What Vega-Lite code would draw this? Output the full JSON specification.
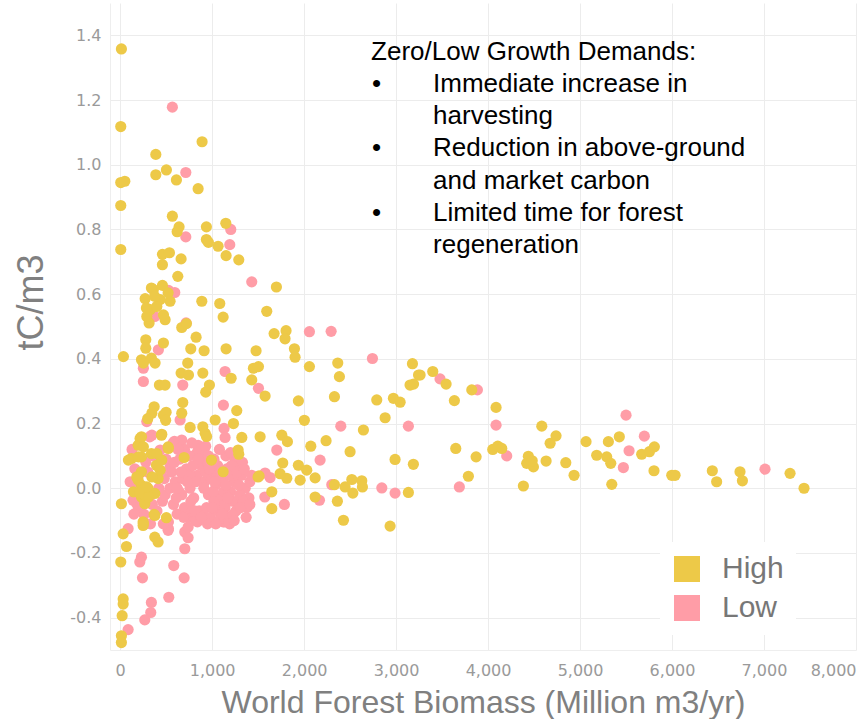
{
  "$schema": "https://vega.github.io/schema/vega-lite/v6.json",
  "width": 746,
  "height": 647,
  "autosize": {"type": "none"},
  "padding": {"left": 110, "top": 3, "right": 2, "bottom": 69},
  "background": "white",
  "config": {
    "view": {"stroke": null},
    "font": "Liberation Sans",
    "axis": {
      "grid": true,
      "gridColor": "#ececec",
      "domainColor": "#eeeeee",
      "ticks": false,
      "labelFont": "DejaVu Sans",
      "labelFontSize": 16,
      "labelColor": "#9a9a9a",
      "titleFont": "Liberation Sans",
      "titleFontSize": 32,
      "titleFontWeight": "normal",
      "titleColor": "#808080"
    }
  },
  "datasets": {
    "pts": [
      {"biomass": 568, "tc": 1.178, "demand": "Low"},
      {"biomass": 714, "tc": 0.976, "demand": "Low"},
      {"biomass": 714, "tc": 0.777, "demand": "Low"},
      {"biomass": 1203, "tc": 0.8, "demand": "Low"},
      {"biomass": 1192, "tc": 0.753, "demand": "Low"},
      {"biomass": 525, "tc": 0.612, "demand": "Low"},
      {"biomass": 1431, "tc": 0.638, "demand": "Low"},
      {"biomass": 717, "tc": 0.511, "demand": "Low"},
      {"biomass": 2058, "tc": 0.484, "demand": "Low"},
      {"biomass": 2294, "tc": 0.485, "demand": "Low"},
      {"biomass": 416, "tc": 0.428, "demand": "Low"},
      {"biomass": 2743, "tc": 0.401, "demand": "Low"},
      {"biomass": 253, "tc": 0.371, "demand": "Low"},
      {"biomass": 253, "tc": 0.33, "demand": "Low"},
      {"biomass": 681, "tc": 0.319, "demand": "Low"},
      {"biomass": 1141, "tc": 0.361, "demand": "Low"},
      {"biomass": 1504, "tc": 0.309, "demand": "Low"},
      {"biomass": 1123, "tc": 0.257, "demand": "Low"},
      {"biomass": 1130, "tc": 0.185, "demand": "Low"},
      {"biomass": 1141, "tc": 0.157, "demand": "Low"},
      {"biomass": 652, "tc": 0.211, "demand": "Low"},
      {"biomass": 670, "tc": 0.149, "demand": "Low"},
      {"biomass": 590, "tc": 0.145, "demand": "Low"},
      {"biomass": 290, "tc": 0.206, "demand": "Low"},
      {"biomass": 345, "tc": 0.164, "demand": "Low"},
      {"biomass": 2399, "tc": 0.192, "demand": "Low"},
      {"biomass": 3134, "tc": 0.192, "demand": "Low"},
      {"biomass": 2174, "tc": 0.087, "demand": "Low"},
      {"biomass": 1703, "tc": 0.118, "demand": "Low"},
      {"biomass": 376, "tc": 0.531, "demand": "Low"},
      {"biomass": 594, "tc": 0.605, "demand": "Low"},
      {"biomass": 322, "tc": 0.159, "demand": "Low"},
      {"biomass": 576, "tc": 0.14, "demand": "Low"},
      {"biomass": 848, "tc": 0.133, "demand": "Low"},
      {"biomass": 830, "tc": 0.107, "demand": "Low"},
      {"biomass": 1301, "tc": 0.071, "demand": "Low"},
      {"biomass": 141, "tc": -0.037, "demand": "Low"},
      {"biomass": 1573, "tc": -0.027, "demand": "Low"},
      {"biomass": 87, "tc": -0.125, "demand": "Low"},
      {"biomass": 522, "tc": -0.13, "demand": "Low"},
      {"biomass": 703, "tc": -0.135, "demand": "Low"},
      {"biomass": 739, "tc": -0.153, "demand": "Low"},
      {"biomass": 703, "tc": -0.187, "demand": "Low"},
      {"biomass": 840, "tc": -0.104, "demand": "Low"},
      {"biomass": 1120, "tc": -0.104, "demand": "Low"},
      {"biomass": 232, "tc": -0.213, "demand": "Low"},
      {"biomass": 214, "tc": -0.228, "demand": "Low"},
      {"biomass": 583, "tc": -0.239, "demand": "Low"},
      {"biomass": 243, "tc": -0.277, "demand": "Low"},
      {"biomass": 696, "tc": -0.277, "demand": "Low"},
      {"biomass": 529, "tc": -0.337, "demand": "Low"},
      {"biomass": 340, "tc": -0.353, "demand": "Low"},
      {"biomass": 333, "tc": -0.384, "demand": "Low"},
      {"biomass": 268, "tc": -0.407, "demand": "Low"},
      {"biomass": 87, "tc": -0.437, "demand": "Low"},
      {"biomass": 1576, "tc": 0.047, "demand": "Low"},
      {"biomass": 1631, "tc": 0.033, "demand": "Low"},
      {"biomass": 2301, "tc": 0.011, "demand": "Low"},
      {"biomass": 2845, "tc": 0.001, "demand": "Low"},
      {"biomass": 2989, "tc": -0.015, "demand": "Low"},
      {"biomass": 2167, "tc": -0.037, "demand": "Low"},
      {"biomass": 1786, "tc": -0.05, "demand": "Low"},
      {"biomass": 3478, "tc": 0.338, "demand": "Low"},
      {"biomass": 3884, "tc": 0.304, "demand": "Low"},
      {"biomass": 4087, "tc": 0.195, "demand": "Low"},
      {"biomass": 3688, "tc": 0.004, "demand": "Low"},
      {"biomass": 4203, "tc": 0.1, "demand": "Low"},
      {"biomass": 5500, "tc": 0.226, "demand": "Low"},
      {"biomass": 5699, "tc": 0.161, "demand": "Low"},
      {"biomass": 5533, "tc": 0.116, "demand": "Low"},
      {"biomass": 5471, "tc": 0.064, "demand": "Low"},
      {"biomass": 7011, "tc": 0.059, "demand": "Low"},
      {"biomass": 109, "tc": 0.02, "demand": "Low"},
      {"biomass": 181, "tc": -0.048, "demand": "Low"},
      {"biomass": 261, "tc": -0.081, "demand": "Low"},
      {"biomass": 272, "tc": -0.11, "demand": "Low"},
      {"biomass": 525, "tc": -0.125, "demand": "Low"},
      {"biomass": 525, "tc": -0.104, "demand": "Low"},
      {"biomass": 543, "tc": 0.066, "demand": "Low"},
      {"biomass": 435, "tc": 0.118, "demand": "Low"},
      {"biomass": 160, "tc": 0.06, "demand": "Low"},
      {"biomass": 200, "tc": -0.06, "demand": "Low"},
      {"biomass": 300, "tc": 0.05, "demand": "Low"},
      {"biomass": 350, "tc": -0.05, "demand": "Low"},
      {"biomass": 420, "tc": 0.0, "demand": "Low"},
      {"biomass": 460, "tc": -0.04, "demand": "Low"},
      {"biomass": 480, "tc": 0.03, "demand": "Low"},
      {"biomass": 130, "tc": 0.12, "demand": "Low"},
      {"biomass": 170, "tc": 0.0, "demand": "Low"},
      {"biomass": 240, "tc": -0.04, "demand": "Low"},
      {"biomass": 280, "tc": 0.08, "demand": "Low"},
      {"biomass": 320, "tc": -0.02, "demand": "Low"},
      {"biomass": 360, "tc": 0.1, "demand": "Low"},
      {"biomass": 400, "tc": -0.07, "demand": "Low"},
      {"biomass": 450, "tc": 0.05, "demand": "Low"},
      {"biomass": 490, "tc": -0.02, "demand": "Low"},
      {"biomass": 150, "tc": -0.08, "demand": "Low"},
      {"biomass": 330, "tc": -0.11, "demand": "Low"},
      {"biomass": 470, "tc": -0.11, "demand": "Low"},
      {"biomass": 200, "tc": 0.04, "demand": "Low"},
      {"biomass": 500, "tc": 0.09, "demand": "Low"},
      {"biomass": 560, "tc": 0.05, "demand": "Low"},
      {"biomass": 600, "tc": 0.02, "demand": "Low"},
      {"biomass": 640, "tc": -0.01, "demand": "Low"},
      {"biomass": 680, "tc": 0.03, "demand": "Low"},
      {"biomass": 720, "tc": 0.06, "demand": "Low"},
      {"biomass": 760, "tc": 0.0, "demand": "Low"},
      {"biomass": 800, "tc": -0.03, "demand": "Low"},
      {"biomass": 840, "tc": 0.04, "demand": "Low"},
      {"biomass": 880, "tc": 0.07, "demand": "Low"},
      {"biomass": 920, "tc": 0.02, "demand": "Low"},
      {"biomass": 960, "tc": -0.02, "demand": "Low"},
      {"biomass": 1000, "tc": 0.05, "demand": "Low"},
      {"biomass": 1040, "tc": 0.01, "demand": "Low"},
      {"biomass": 1080, "tc": -0.04, "demand": "Low"},
      {"biomass": 1120, "tc": 0.03, "demand": "Low"},
      {"biomass": 1160, "tc": 0.06, "demand": "Low"},
      {"biomass": 1200, "tc": -0.01, "demand": "Low"},
      {"biomass": 1240, "tc": 0.02, "demand": "Low"},
      {"biomass": 1280, "tc": -0.05, "demand": "Low"},
      {"biomass": 1320, "tc": 0.04, "demand": "Low"},
      {"biomass": 1360, "tc": 0.0, "demand": "Low"},
      {"biomass": 1400, "tc": -0.03, "demand": "Low"},
      {"biomass": 580, "tc": -0.05, "demand": "Low"},
      {"biomass": 620, "tc": -0.08, "demand": "Low"},
      {"biomass": 700, "tc": -0.06, "demand": "Low"},
      {"biomass": 740, "tc": -0.09, "demand": "Low"},
      {"biomass": 780, "tc": -0.07, "demand": "Low"},
      {"biomass": 820, "tc": -0.1, "demand": "Low"},
      {"biomass": 860, "tc": -0.07, "demand": "Low"},
      {"biomass": 900, "tc": -0.08, "demand": "Low"},
      {"biomass": 940, "tc": -0.06, "demand": "Low"},
      {"biomass": 980, "tc": -0.09, "demand": "Low"},
      {"biomass": 1020, "tc": -0.04, "demand": "Low"},
      {"biomass": 1060, "tc": -0.07, "demand": "Low"},
      {"biomass": 1100, "tc": -0.02, "demand": "Low"},
      {"biomass": 1140, "tc": -0.06, "demand": "Low"},
      {"biomass": 1180, "tc": -0.09, "demand": "Low"},
      {"biomass": 1220, "tc": -0.04, "demand": "Low"},
      {"biomass": 1260, "tc": -0.07, "demand": "Low"},
      {"biomass": 1300, "tc": -0.02, "demand": "Low"},
      {"biomass": 1340, "tc": -0.04, "demand": "Low"},
      {"biomass": 1380, "tc": -0.06, "demand": "Low"},
      {"biomass": 650, "tc": 0.09, "demand": "Low"},
      {"biomass": 700, "tc": 0.12, "demand": "Low"},
      {"biomass": 750, "tc": 0.1, "demand": "Low"},
      {"biomass": 850, "tc": 0.12, "demand": "Low"},
      {"biomass": 900, "tc": 0.1, "demand": "Low"},
      {"biomass": 950, "tc": 0.08, "demand": "Low"},
      {"biomass": 1020, "tc": 0.09, "demand": "Low"},
      {"biomass": 1060, "tc": 0.07, "demand": "Low"},
      {"biomass": 1150, "tc": 0.1, "demand": "Low"},
      {"biomass": 1250, "tc": 0.09, "demand": "Low"},
      {"biomass": 1330, "tc": 0.08, "demand": "Low"},
      {"biomass": 670, "tc": -0.02, "demand": "Low"},
      {"biomass": 1010, "tc": -0.01, "demand": "Low"},
      {"biomass": 1130, "tc": -0.01, "demand": "Low"},
      {"biomass": 910, "tc": 0.0, "demand": "Low"},
      {"biomass": 990, "tc": 0.03, "demand": "Low"},
      {"biomass": 1190, "tc": 0.04, "demand": "Low"},
      {"biomass": 1290, "tc": 0.01, "demand": "Low"},
      {"biomass": 1050, "tc": 0.04, "demand": "Low"},
      {"biomass": 760, "tc": 0.04, "demand": "Low"},
      {"biomass": 820, "tc": 0.02, "demand": "Low"},
      {"biomass": 1134, "tc": -0.104, "demand": "Low"},
      {"biomass": 540, "tc": 0.0, "demand": "Low"},
      {"biomass": 590, "tc": 0.08, "demand": "Low"},
      {"biomass": 610, "tc": -0.03, "demand": "Low"},
      {"biomass": 660, "tc": 0.05, "demand": "Low"},
      {"biomass": 690, "tc": -0.09, "demand": "Low"},
      {"biomass": 730, "tc": 0.02, "demand": "Low"},
      {"biomass": 770, "tc": -0.04, "demand": "Low"},
      {"biomass": 790, "tc": 0.07, "demand": "Low"},
      {"biomass": 810, "tc": -0.07, "demand": "Low"},
      {"biomass": 850, "tc": 0.09, "demand": "Low"},
      {"biomass": 930, "tc": 0.05, "demand": "Low"},
      {"biomass": 950, "tc": -0.11, "demand": "Low"},
      {"biomass": 970, "tc": 0.06, "demand": "Low"},
      {"biomass": 1000, "tc": -0.06, "demand": "Low"},
      {"biomass": 1030, "tc": 0.02, "demand": "Low"},
      {"biomass": 1070, "tc": -0.1, "demand": "Low"},
      {"biomass": 1090, "tc": 0.05, "demand": "Low"},
      {"biomass": 1110, "tc": -0.08, "demand": "Low"},
      {"biomass": 1150, "tc": 0.01, "demand": "Low"},
      {"biomass": 1170, "tc": -0.03, "demand": "Low"},
      {"biomass": 1210, "tc": 0.07, "demand": "Low"},
      {"biomass": 1230, "tc": -0.08, "demand": "Low"},
      {"biomass": 1270, "tc": 0.05, "demand": "Low"},
      {"biomass": 1310, "tc": -0.06, "demand": "Low"},
      {"biomass": 1350, "tc": 0.06, "demand": "Low"},
      {"biomass": 1370, "tc": -0.09, "demand": "Low"},
      {"biomass": 1410, "tc": 0.02, "demand": "Low"},
      {"biomass": 630, "tc": 0.12, "demand": "Low"},
      {"biomass": 780, "tc": 0.14, "demand": "Low"},
      {"biomass": 930, "tc": 0.13, "demand": "Low"},
      {"biomass": 1080, "tc": 0.12, "demand": "Low"},
      {"biomass": 1200, "tc": 0.11, "demand": "Low"},
      {"biomass": 620, "tc": 0.0, "demand": "Low"},
      {"biomass": 880, "tc": -0.09, "demand": "Low"},
      {"biomass": 1040, "tc": -0.11, "demand": "Low"},
      {"biomass": 1190, "tc": -0.11, "demand": "Low"},
      {"biomass": 960, "tc": 0.1, "demand": "Low"},
      {"biomass": 740, "tc": -0.12, "demand": "Low"},
      {"biomass": 1240, "tc": -0.1, "demand": "Low"},
      {"biomass": 1410, "tc": -0.05, "demand": "Low"},
      {"biomass": 1430, "tc": 0.04, "demand": "Low"},
      {"biomass": 14, "tc": 1.358, "demand": "High"},
      {"biomass": 7, "tc": 1.118, "demand": "High"},
      {"biomass": 891, "tc": 1.071, "demand": "High"},
      {"biomass": 388, "tc": 1.032, "demand": "High"},
      {"biomass": 388, "tc": 0.969, "demand": "High"},
      {"biomass": 503, "tc": 0.984, "demand": "High"},
      {"biomass": 612, "tc": 0.953, "demand": "High"},
      {"biomass": 848, "tc": 0.926, "demand": "High"},
      {"biomass": 7, "tc": 0.945, "demand": "High"},
      {"biomass": 51, "tc": 0.949, "demand": "High"},
      {"biomass": 7, "tc": 0.874, "demand": "High"},
      {"biomass": 568, "tc": 0.841, "demand": "High"},
      {"biomass": 641, "tc": 0.808, "demand": "High"},
      {"biomass": 620, "tc": 0.793, "demand": "High"},
      {"biomass": 938, "tc": 0.808, "demand": "High"},
      {"biomass": 1149, "tc": 0.819, "demand": "High"},
      {"biomass": 938, "tc": 0.769, "demand": "High"},
      {"biomass": 1065, "tc": 0.748, "demand": "High"},
      {"biomass": 7, "tc": 0.738, "demand": "High"},
      {"biomass": 1152, "tc": 0.719, "demand": "High"},
      {"biomass": 1290, "tc": 0.706, "demand": "High"},
      {"biomass": 960, "tc": 0.76, "demand": "High"},
      {"biomass": 460, "tc": 0.723, "demand": "High"},
      {"biomass": 536, "tc": 0.728, "demand": "High"},
      {"biomass": 460, "tc": 0.691, "demand": "High"},
      {"biomass": 663, "tc": 0.709, "demand": "High"},
      {"biomass": 627, "tc": 0.655, "demand": "High"},
      {"biomass": 1699, "tc": 0.622, "demand": "High"},
      {"biomass": 272, "tc": 0.586, "demand": "High"},
      {"biomass": 362, "tc": 0.614, "demand": "High"},
      {"biomass": 460, "tc": 0.627, "demand": "High"},
      {"biomass": 326, "tc": 0.552, "demand": "High"},
      {"biomass": 399, "tc": 0.562, "demand": "High"},
      {"biomass": 471, "tc": 0.536, "demand": "High"},
      {"biomass": 315, "tc": 0.511, "demand": "High"},
      {"biomass": 489, "tc": 0.521, "demand": "High"},
      {"biomass": 543, "tc": 0.578, "demand": "High"},
      {"biomass": 435, "tc": 0.583, "demand": "High"},
      {"biomass": 290, "tc": 0.531, "demand": "High"},
      {"biomass": 340, "tc": 0.619, "demand": "High"},
      {"biomass": 522, "tc": 0.604, "demand": "High"},
      {"biomass": 376, "tc": 0.593, "demand": "High"},
      {"biomass": 286, "tc": 0.557, "demand": "High"},
      {"biomass": 888, "tc": 0.578, "demand": "High"},
      {"biomass": 1083, "tc": 0.571, "demand": "High"},
      {"biomass": 1120, "tc": 0.529, "demand": "High"},
      {"biomass": 1594, "tc": 0.547, "demand": "High"},
      {"biomass": 670, "tc": 0.497, "demand": "High"},
      {"biomass": 721, "tc": 0.509, "demand": "High"},
      {"biomass": 826, "tc": 0.467, "demand": "High"},
      {"biomass": 1674, "tc": 0.478, "demand": "High"},
      {"biomass": 1804, "tc": 0.487, "demand": "High"},
      {"biomass": 1793, "tc": 0.462, "demand": "High"},
      {"biomass": 279, "tc": 0.459, "demand": "High"},
      {"biomass": 279, "tc": 0.433, "demand": "High"},
      {"biomass": 471, "tc": 0.449, "demand": "High"},
      {"biomass": 768, "tc": 0.431, "demand": "High"},
      {"biomass": 913, "tc": 0.425, "demand": "High"},
      {"biomass": 1152, "tc": 0.431, "demand": "High"},
      {"biomass": 1478, "tc": 0.425, "demand": "High"},
      {"biomass": 1895, "tc": 0.431, "demand": "High"},
      {"biomass": 1902, "tc": 0.405, "demand": "High"},
      {"biomass": 36, "tc": 0.407, "demand": "High"},
      {"biomass": 232, "tc": 0.397, "demand": "High"},
      {"biomass": 340, "tc": 0.402, "demand": "High"},
      {"biomass": 380, "tc": 0.387, "demand": "High"},
      {"biomass": 253, "tc": 0.387, "demand": "High"},
      {"biomass": 427, "tc": 0.319, "demand": "High"},
      {"biomass": 489, "tc": 0.319, "demand": "High"},
      {"biomass": 663, "tc": 0.356, "demand": "High"},
      {"biomass": 743, "tc": 0.35, "demand": "High"},
      {"biomass": 735, "tc": 0.387, "demand": "High"},
      {"biomass": 899, "tc": 0.356, "demand": "High"},
      {"biomass": 971, "tc": 0.319, "demand": "High"},
      {"biomass": 931, "tc": 0.297, "demand": "High"},
      {"biomass": 1207, "tc": 0.34, "demand": "High"},
      {"biomass": 1431, "tc": 0.335, "demand": "High"},
      {"biomass": 1449, "tc": 0.371, "demand": "High"},
      {"biomass": 1504, "tc": 0.376, "demand": "High"},
      {"biomass": 1576, "tc": 0.285, "demand": "High"},
      {"biomass": 2058, "tc": 0.376, "demand": "High"},
      {"biomass": 1938, "tc": 0.27, "demand": "High"},
      {"biomass": 2003, "tc": 0.21, "demand": "High"},
      {"biomass": 2366, "tc": 0.387, "demand": "High"},
      {"biomass": 2384, "tc": 0.345, "demand": "High"},
      {"biomass": 2330, "tc": 0.283, "demand": "High"},
      {"biomass": 2790, "tc": 0.273, "demand": "High"},
      {"biomass": 2971, "tc": 0.278, "demand": "High"},
      {"biomass": 3044, "tc": 0.266, "demand": "High"},
      {"biomass": 2881, "tc": 0.218, "demand": "High"},
      {"biomass": 3178, "tc": 0.385, "demand": "High"},
      {"biomass": 3244, "tc": 0.35, "demand": "High"},
      {"biomass": 3152, "tc": 0.319, "demand": "High"},
      {"biomass": 3190, "tc": 0.322, "demand": "High"},
      {"biomass": 2645, "tc": 0.18, "demand": "High"},
      {"biomass": 2500, "tc": 0.113, "demand": "High"},
      {"biomass": 2989, "tc": 0.089, "demand": "High"},
      {"biomass": 3188, "tc": 0.074, "demand": "High"},
      {"biomass": 2239, "tc": 0.147, "demand": "High"},
      {"biomass": 2073, "tc": 0.13, "demand": "High"},
      {"biomass": 1758, "tc": 0.164, "demand": "High"},
      {"biomass": 1819, "tc": 0.144, "demand": "High"},
      {"biomass": 1768, "tc": 0.078, "demand": "High"},
      {"biomass": 1522, "tc": 0.159, "demand": "High"},
      {"biomass": 1323, "tc": 0.157, "demand": "High"},
      {"biomass": 1268, "tc": 0.24, "demand": "High"},
      {"biomass": 1232, "tc": 0.2, "demand": "High"},
      {"biomass": 1033, "tc": 0.211, "demand": "High"},
      {"biomass": 899, "tc": 0.19, "demand": "High"},
      {"biomass": 924, "tc": 0.17, "demand": "High"},
      {"biomass": 940, "tc": 0.16, "demand": "High"},
      {"biomass": 761, "tc": 0.188, "demand": "High"},
      {"biomass": 681, "tc": 0.265, "demand": "High"},
      {"biomass": 670, "tc": 0.232, "demand": "High"},
      {"biomass": 370, "tc": 0.252, "demand": "High"},
      {"biomass": 345, "tc": 0.232, "demand": "High"},
      {"biomass": 300, "tc": 0.215, "demand": "High"},
      {"biomass": 471, "tc": 0.226, "demand": "High"},
      {"biomass": 500, "tc": 0.235, "demand": "High"},
      {"biomass": 495, "tc": 0.21, "demand": "High"},
      {"biomass": 453, "tc": 0.167, "demand": "High"},
      {"biomass": 217, "tc": 0.154, "demand": "High"},
      {"biomass": 196, "tc": 0.133, "demand": "High"},
      {"biomass": 232, "tc": 0.159, "demand": "High"},
      {"biomass": 449, "tc": 0.164, "demand": "High"},
      {"biomass": 522, "tc": 0.128, "demand": "High"},
      {"biomass": 1283, "tc": 0.118, "demand": "High"},
      {"biomass": 1290, "tc": 0.105, "demand": "High"},
      {"biomass": 993, "tc": 0.087, "demand": "High"},
      {"biomass": 696, "tc": 0.095, "demand": "High"},
      {"biomass": 340, "tc": 0.107, "demand": "High"},
      {"biomass": 123, "tc": 0.092, "demand": "High"},
      {"biomass": 232, "tc": 0.097, "demand": "High"},
      {"biomass": 395, "tc": 0.071, "demand": "High"},
      {"biomass": 1120, "tc": 0.051, "demand": "High"},
      {"biomass": 1500, "tc": 0.035, "demand": "High"},
      {"biomass": 232, "tc": 0.051, "demand": "High"},
      {"biomass": 413, "tc": 0.03, "demand": "High"},
      {"biomass": 232, "tc": 0.009, "demand": "High"},
      {"biomass": 304, "tc": -0.001, "demand": "High"},
      {"biomass": 232, "tc": -0.027, "demand": "High"},
      {"biomass": 377, "tc": -0.016, "demand": "High"},
      {"biomass": 196, "tc": 0.025, "demand": "High"},
      {"biomass": 268, "tc": -0.048, "demand": "High"},
      {"biomass": 14, "tc": -0.048, "demand": "High"},
      {"biomass": 377, "tc": -0.084, "demand": "High"},
      {"biomass": 250, "tc": -0.104, "demand": "High"},
      {"biomass": 503, "tc": -0.091, "demand": "High"},
      {"biomass": 90, "tc": 0.087, "demand": "High"},
      {"biomass": 199, "tc": 0.097, "demand": "High"},
      {"biomass": 253, "tc": 0.128, "demand": "High"},
      {"biomass": 145, "tc": -0.011, "demand": "High"},
      {"biomass": 217, "tc": -0.016, "demand": "High"},
      {"biomass": 308, "tc": -0.027, "demand": "High"},
      {"biomass": 290, "tc": 0.004, "demand": "High"},
      {"biomass": 181, "tc": 0.035, "demand": "High"},
      {"biomass": 345, "tc": 0.035, "demand": "High"},
      {"biomass": 435, "tc": 0.056, "demand": "High"},
      {"biomass": 453, "tc": 0.087, "demand": "High"},
      {"biomass": 525, "tc": 0.123, "demand": "High"},
      {"biomass": 399, "tc": 0.107, "demand": "High"},
      {"biomass": 253, "tc": -0.11, "demand": "High"},
      {"biomass": 370, "tc": -0.081, "demand": "High"},
      {"biomass": 33, "tc": -0.141, "demand": "High"},
      {"biomass": 250, "tc": -0.115, "demand": "High"},
      {"biomass": 377, "tc": -0.151, "demand": "High"},
      {"biomass": 413, "tc": -0.166, "demand": "High"},
      {"biomass": 69, "tc": -0.18, "demand": "High"},
      {"biomass": 7, "tc": -0.228, "demand": "High"},
      {"biomass": 33, "tc": -0.342, "demand": "High"},
      {"biomass": 33, "tc": -0.358, "demand": "High"},
      {"biomass": 22, "tc": -0.394, "demand": "High"},
      {"biomass": 14, "tc": -0.456, "demand": "High"},
      {"biomass": 14, "tc": -0.477, "demand": "High"},
      {"biomass": 1938, "tc": 0.071, "demand": "High"},
      {"biomass": 2029, "tc": 0.056, "demand": "High"},
      {"biomass": 2120, "tc": 0.032, "demand": "High"},
      {"biomass": 1957, "tc": 0.025, "demand": "High"},
      {"biomass": 1812, "tc": 0.031, "demand": "High"},
      {"biomass": 1739, "tc": 0.045, "demand": "High"},
      {"biomass": 1511, "tc": 0.038, "demand": "High"},
      {"biomass": 2330, "tc": 0.011, "demand": "High"},
      {"biomass": 2446, "tc": 0.004, "demand": "High"},
      {"biomass": 2519, "tc": 0.027, "demand": "High"},
      {"biomass": 2627, "tc": 0.023, "demand": "High"},
      {"biomass": 2634, "tc": 0.004, "demand": "High"},
      {"biomass": 2530, "tc": -0.015, "demand": "High"},
      {"biomass": 3134, "tc": -0.013, "demand": "High"},
      {"biomass": 1649, "tc": -0.011, "demand": "High"},
      {"biomass": 1649, "tc": -0.063, "demand": "High"},
      {"biomass": 2120, "tc": -0.027, "demand": "High"},
      {"biomass": 2362, "tc": -0.04, "demand": "High"},
      {"biomass": 2428, "tc": -0.099, "demand": "High"},
      {"biomass": 2935, "tc": -0.117, "demand": "High"},
      {"biomass": 3261, "tc": 0.35, "demand": "High"},
      {"biomass": 3399, "tc": 0.361, "demand": "High"},
      {"biomass": 3544, "tc": 0.322, "demand": "High"},
      {"biomass": 3634, "tc": 0.271, "demand": "High"},
      {"biomass": 3823, "tc": 0.304, "demand": "High"},
      {"biomass": 4087, "tc": 0.25, "demand": "High"},
      {"biomass": 3649, "tc": 0.123, "demand": "High"},
      {"biomass": 3870, "tc": 0.097, "demand": "High"},
      {"biomass": 3786, "tc": 0.037, "demand": "High"},
      {"biomass": 4051, "tc": 0.12, "demand": "High"},
      {"biomass": 4106, "tc": 0.13, "demand": "High"},
      {"biomass": 4149, "tc": 0.123, "demand": "High"},
      {"biomass": 4384, "tc": 0.007, "demand": "High"},
      {"biomass": 4438, "tc": 0.099, "demand": "High"},
      {"biomass": 4420, "tc": 0.077, "demand": "High"},
      {"biomass": 4493, "tc": 0.066, "demand": "High"},
      {"biomass": 4480, "tc": 0.085, "demand": "High"},
      {"biomass": 4584, "tc": 0.192, "demand": "High"},
      {"biomass": 4675, "tc": 0.139, "demand": "High"},
      {"biomass": 4739, "tc": 0.162, "demand": "High"},
      {"biomass": 4631, "tc": 0.084, "demand": "High"},
      {"biomass": 4845, "tc": 0.079, "demand": "High"},
      {"biomass": 4935, "tc": 0.04, "demand": "High"},
      {"biomass": 5065, "tc": 0.144, "demand": "High"},
      {"biomass": 5181, "tc": 0.102, "demand": "High"},
      {"biomass": 5308, "tc": 0.144, "demand": "High"},
      {"biomass": 5290, "tc": 0.097, "demand": "High"},
      {"biomass": 5334, "tc": 0.077, "demand": "High"},
      {"biomass": 5345, "tc": 0.012, "demand": "High"},
      {"biomass": 5427, "tc": 0.159, "demand": "High"},
      {"biomass": 5670, "tc": 0.105, "demand": "High"},
      {"biomass": 5754, "tc": 0.113, "demand": "High"},
      {"biomass": 5808, "tc": 0.128, "demand": "High"},
      {"biomass": 5804, "tc": 0.054, "demand": "High"},
      {"biomass": 5997, "tc": 0.04, "demand": "High"},
      {"biomass": 6033, "tc": 0.04, "demand": "High"},
      {"biomass": 6438, "tc": 0.054, "demand": "High"},
      {"biomass": 6485, "tc": 0.02, "demand": "High"},
      {"biomass": 6739, "tc": 0.051, "demand": "High"},
      {"biomass": 6765, "tc": 0.023, "demand": "High"},
      {"biomass": 7283, "tc": 0.046, "demand": "High"},
      {"biomass": 7435, "tc": 0.0, "demand": "High"}
    ]
  },
  "layer": [
    {
      "mark": {"type": "rule", "color": "#b0b0b0", "strokeDash": [1, 2], "strokeWidth": 1},
      "encoding": {"x": {"datum": 0, "type": "quantitative"}}
    },
    {
      "mark": {"type": "rule", "color": "#b0b0b0", "strokeDash": [1, 2], "strokeWidth": 1},
      "encoding": {"y": {"datum": 0, "type": "quantitative"}}
    },
    {
      "data": {"name": "pts"},
      "mark": {"type": "circle", "size": 125, "opacity": 1},
      "encoding": {
        "x": {
          "field": "biomass",
          "type": "quantitative",
          "scale": {"domain": [-110, 8000], "nice": false, "zero": false},
          "axis": {
            "title": "World Forest Biomass (Million m3/yr)",
            "values": [0, 1000, 2000, 3000, 4000, 5000, 6000, 7000, 8000],
            "format": ",d",
            "labelPadding": 12,
            "labelFlush": true,
            "titleY": 62,
            "titleBaseline": "alphabetic"
          }
        },
        "y": {
          "field": "tc",
          "type": "quantitative",
          "scale": {"domain": [-0.5, 1.5], "nice": false, "zero": false},
          "axis": {
            "title": "tC/m3",
            "values": [-0.4, -0.2, 0, 0.2, 0.4, 0.6, 0.8, 1.0, 1.2, 1.4],
            "format": ".1f",
            "labelExpr": "replace(datum.label, '\u2212', '-')",
            "labelPadding": 9,
            "titleFontSize": 36,
            "titleX": -68,
            "titleY": 299,
            "titleAngle": -90,
            "titleAlign": "center",
            "titleBaseline": "alphabetic"
          }
        },
        "color": {
          "field": "demand",
          "type": "nominal",
          "scale": {"domain": ["High", "Low"], "range": ["#EDC948", "#FF9DA7"]},
          "legend": {
            "title": null,
            "orient": "none",
            "legendX": 550,
            "legendY": 539,
            "symbolType": "square",
            "symbolSize": 676,
            "symbolOpacity": 1,
            "symbolStrokeWidth": 0,
            "labelFont": "Liberation Sans",
            "labelFontSize": 30,
            "labelColor": "#777777",
            "labelOffset": 20,
            "rowPadding": 9,
            "padding": 12,
            "fillColor": "white"
          }
        }
      }
    },
    {
      "data": {"values": [{}]},
      "mark": {"type": "text", "text": "Zero/Low Growth Demands:", "font": "Liberation Sans", "fontSize": 26, "color": "#000000", "align": "left", "baseline": "alphabetic"},
      "encoding": {"x": {"datum": 2728, "type": "quantitative"}, "y": {"datum": 1.324, "type": "quantitative"}}
    },
    {
      "data": {"values": [{}]},
      "mark": {"type": "text", "text": ["•", "•", "•"], "lineHeight": 64.5, "font": "Liberation Sans", "fontSize": 26, "color": "#000000", "align": "left", "baseline": "alphabetic"},
      "encoding": {"x": {"datum": 2739, "type": "quantitative"}, "y": {"datum": 1.225, "type": "quantitative"}}
    },
    {
      "data": {"values": [{}]},
      "mark": {"type": "text", "text": ["Immediate increase in", "harvesting", "Reduction in above-ground", "and market carbon", "Limited time for forest", "regeneration"], "lineHeight": 32.2, "font": "Liberation Sans", "fontSize": 26, "color": "#000000", "align": "left", "baseline": "alphabetic"},
      "encoding": {"x": {"datum": 3402, "type": "quantitative"}, "y": {"datum": 1.225, "type": "quantitative"}}
    }
  ]
}
